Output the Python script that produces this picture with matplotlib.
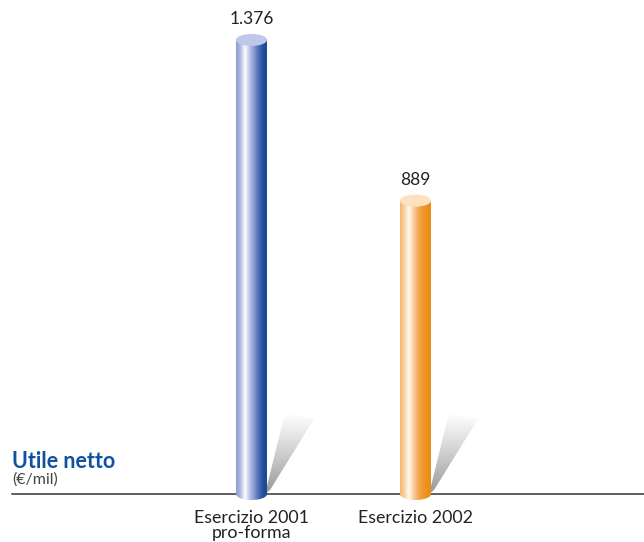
import numpy
import matplotlib
matplotlib.use('Agg')
import matplotlib.pyplot as plt
from matplotlib.colors import LinearSegmentedColormap
from matplotlib.patches import Ellipse, Polygon


######################################################################
# Data
######################################################################

categories = ['Esercizio 2001\npro-forma', 'Esercizio 2002']
values = [1376, 889]
value_labels = ['1.376', '889']

title = 'Utile netto'
unit = '(€/mil)'


######################################################################
# Style
######################################################################

plt.rcParams['font.family'] = ['Lato', 'DejaVu Sans']

bar_stops = [
    ['#8c99cf', '#b3bce3', '#ffffff', '#bac2e6', '#8797d0', '#4a6cb4', '#1b4d9c', '#1a4a98'],
    ['#f5b46c', '#fad2a4', '#fffaf2', '#fbd2a6', '#f5ad5c', '#f09a33', '#ee8f20', '#ed8b1a'],
]
top_colors = ['#bfc7ea', '#fde2c2']

px_y = 0.33           # pixels per value unit
px_x = 164.0          # pixels per category step
bar_w = 31 / px_x
cap_h = 12 / px_y


def gradient_image(ax, stops, extent, clip):
    cmap = LinearSegmentedColormap.from_list('bar', stops)
    grad = numpy.linspace(0, 1, 256).reshape(1, -1)
    im = ax.imshow(grad, cmap=cmap, extent=extent, aspect='auto',
                   interpolation='bicubic', zorder=3)
    im.set_clip_path(clip)


######################################################################
# Figure
######################################################################

fig = plt.figure(figsize=(6.44, 5.42), dpi=100)
ax = fig.add_axes([0, 0, 1, 1])
ax.set_xlim(-251.5 / px_x, (644 - 251.5) / px_x)
ax.set_ylim(-48 / px_y, 494 / px_y)
ax.axis('off')

# baseline
ax.plot([(12 - 251.5) / px_x, (644 - 251.5) / px_x], [0, 0],
        color='#333333', lw=1.1, zorder=1)

theta = numpy.linspace(numpy.pi, 2 * numpy.pi, 60)

for i, (v, stops) in enumerate(zip(values, bar_stops)):

    cx = i
    left = cx - bar_w / 2
    right = cx + bar_w / 2

    # shadow (wedge leaning to the right, fading upwards)
    sh = numpy.array([
        [right - 2 / px_x, 0],
        [right + 18 / px_x, 81 / px_y],
        [right + 47 / px_x, 75 / px_y],
        [right + 3 / px_x, 4 / px_y],
    ])
    sh_poly = Polygon(sh, closed=True, facecolor='none', edgecolor='none')
    ax.add_patch(sh_poly)
    rgba = numpy.zeros((100, 1, 4))
    rgba[..., :3] = 0.48
    rgba[..., 3] = numpy.linspace(0.0, 0.8, 100).reshape(-1, 1) ** 1.1
    im = ax.imshow(rgba, extent=[right - 2 / px_x, right + 48 / px_x, 0, 82 / px_y],
                   origin='upper', aspect='auto', zorder=2)
    im.set_clip_path(sh_poly)

    # cylinder body
    body = [(left, v)]
    body += list(zip(cx + bar_w / 2 * numpy.cos(theta),
                     cap_h / 2 * numpy.sin(theta)))
    body += [(right, v)]
    body_poly = Polygon(body, closed=True, facecolor='none', edgecolor='none')
    ax.add_patch(body_poly)
    gradient_image(ax, stops, [left, right, -cap_h, v], body_poly)

    # cylinder top
    ax.add_patch(Ellipse((cx, v), bar_w, cap_h, facecolor=top_colors[i],
                         edgecolor='none', zorder=4))

    # value label
    ax.text(cx, v + 21 / px_y, value_labels[i], ha='center', va='center',
            fontsize=12.5, color='#222222')

    # category label
    ax.text(cx, -16 / px_y, categories[i], ha='center', va='top',
            fontsize=12.8, color='#222222', linespacing=0.95)

# title
ax.text((12 - 251.5) / px_x, 32 / px_y, title, ha='left', va='center',
        fontsize=15.5, fontweight='bold', color='#11519e')
ax.text((12 - 251.5) / px_x, 14 / px_y, unit, ha='left', va='center',
        fontsize=11.5, color='#444444')

fig.savefig('out.png', dpi=100)
